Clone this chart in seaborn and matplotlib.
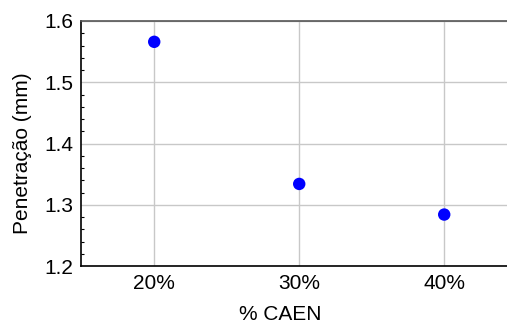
import matplotlib
matplotlib.use("Agg")
import matplotlib.pyplot as plt
from matplotlib.ticker import MultipleLocator
import seaborn as sns
import pandas as pd

# Penetration measured for each CAEN content
caen_levels = ["20%", "30%", "40%"]
penetration = [1.566, 1.334, 1.284]

df = pd.DataFrame({"CAEN": caen_levels, "Penetracao": penetration})

sns.set_theme(style="white")
plt.rcParams["font.family"] = ["Liberation Sans", "DejaVu Sans"]

fig = plt.figure(figsize=(5.07, 3.24), dpi=100)
ax = fig.add_axes([81 / 507, 1 - 266 / 324, 1 - 81 / 507 + 0.002, (266 - 21) / 324])

sns.scatterplot(data=df, x="CAEN", y="Penetracao", ax=ax, color="#0000ff",
                s=80, edgecolor="none", zorder=3)

ax.set_xlim(-0.505, 2.44)
ax.set_ylim(1.2, 1.6)
ax.yaxis.set_major_locator(MultipleLocator(0.1))
ax.yaxis.set_minor_locator(MultipleLocator(0.02))
ax.grid(True, which="major", color="#c8c8c8", linewidth=1.0)
ax.set_axisbelow(True)

for side in ["left", "bottom"]:
    ax.spines[side].set_color("black")
    ax.spines[side].set_linewidth(1.2)
ax.spines["top"].set_color("#555555")
ax.spines["top"].set_linewidth(1.2)
ax.spines["right"].set_visible(False)

ax.tick_params(axis="y", which="major", direction="in", length=0, labelsize=15,
               pad=5.5, colors="black")
ax.tick_params(axis="y", which="minor", direction="in", length=2.5, width=0.8,
               left=True, color="black")
ax.tick_params(axis="x", which="major", direction="in", length=0, labelsize=15,
               pad=6, colors="black")
ax.set_yticks([1.2, 1.3, 1.4, 1.5, 1.6])
ax.set_yticklabels(["1.2", "1.3", "1.4", "1.5", "1.6"])

ax.set_xlabel("% CAEN", fontsize=15, color="black")
ax.set_ylabel("Penetração (mm)", fontsize=15, color="black")
ax.xaxis.set_label_coords((280 - 81) / (507 - 81), -(304.5 - 266) / 245)
ax.yaxis.set_label_coords(-(81 - 32) / (507 - 81), 0.459)

fig.savefig("out.png", dpi=100)
